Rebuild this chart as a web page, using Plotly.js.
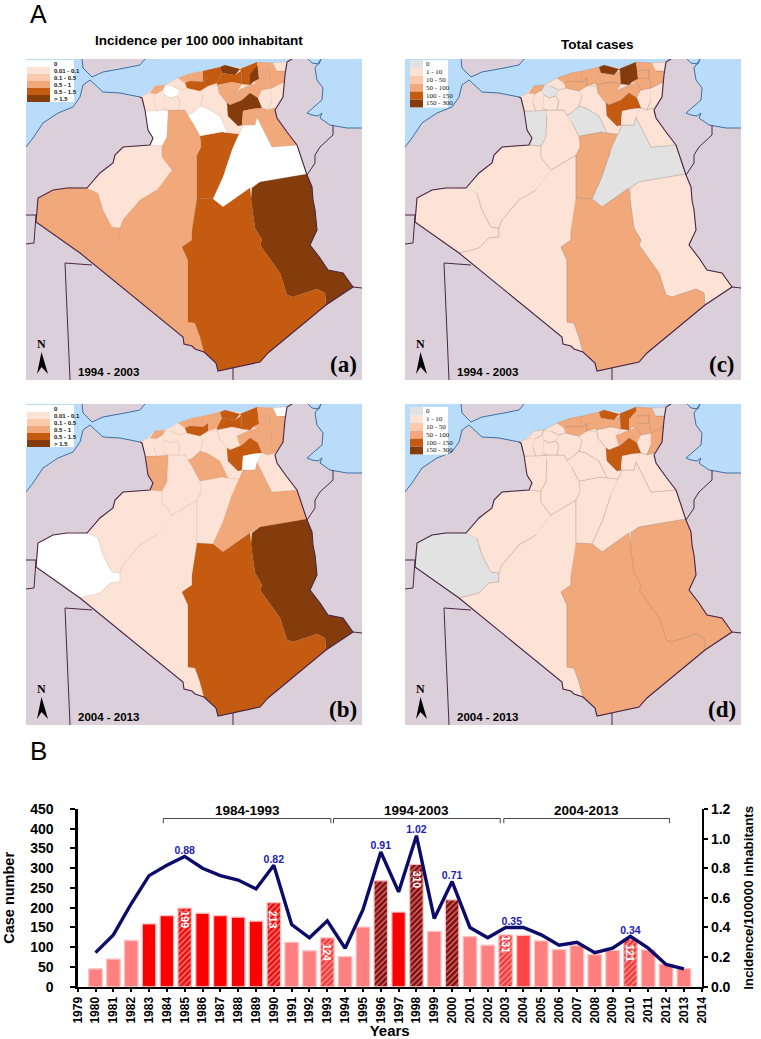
<!DOCTYPE html>
<html>
<head>
<meta charset="utf-8">
<script src="https://cdn.plot.ly/plotly-3.0.1.min.js"></script>
<style>
  html, body { margin: 0; padding: 0; background: #fff; }
</style>
</head>
<body>
<div id="chart" style="width:761px;height:1039px"></div>
<script>
// --- panel B data ---
const years = [1980,1981,1982,1983,1984,1985,1986,1987,1988,1989,1990,1991,1992,1993,1994,1995,1996,
  1997,1998,1999,2000,2001,2002,2003,2004,2005,2006,2007,2008,2009,2010,2011,2012,2013];
const caseNumbers = [45,70,117,159,180,199,186,180,176,166,213,112,91,124,76,151,268,
  189,310,140,220,127,105,131,130,116,94,104,81,92,121,93,57,46];
const incidence = [0.23,0.35,0.56,0.75,0.82,0.88,0.80,0.75,0.72,0.66,0.82,0.42,0.33,0.445,0.26,0.52,0.91,
  0.64,1.02,0.46,0.71,0.40,0.33,0.40,0.40,0.35,0.28,0.30,0.23,0.26,0.34,0.26,0.15,0.12];
const barClass = ['l','l','l','r','r','hr','r','r','r','r','hr','l','l','hl','l','l','hd',
  'r','hd','l','hd','l','l','hl','m','l','l','l','l','l','hl','l','l','l'];
const noteYears = [1985,1990,1993,1998,2003,2010];
const noteText = ['199','213','124','310','131','121'];
const noteCenters = [171,170,86,270,108,84];
const peakYears = [1985,1990,1996,1998,2000,2003.35,2010];
const peakY = [0.88,0.82,0.91,1.02,0.71,0.40,0.34];
const peakText = ['0.88','0.82','0.91','1.02','0.71','0.35','0.34'];
const periods = ['1984-1993','1994-2003','2004-2013'];
const periodStart = [1983.8,1993.35,2002.9];
const periodEnd = [1993.2,2002.7,2012.2];

// --- map geometry, in pixels of panel (a) ---
const coastAlgeria = [[140,97],[148,93],[155,86],[165,85],[178,78],[192,73],[208,70],[225,65],[242,68],[257,62],[273,63],[285,62],[292,59]];
const coastMorocco = [[140,97],[120,93],[103,92],[95,85],[90,80],[83,85],[80,97],[73,107],[58,113],[43,123],[33,138],[26,147]];
const coastSpain = [[82,59],[83,68],[92,77],[103,72],[125,68],[140,65],[145,59]];
const coastTunisia = [[321,59],[315,68],[317,80],[323,88],[322,100],[313,108],[307,113],[312,115],[318,116],[322,113],[320,118],[330,125],[347,128],[362,128]];
const coastBizerte = [[308,59],[312,63],[319,64],[321,59]];
const algeriaBorder = [[292,59],[287,62],[285,75],[283,97],[275,110],[277,118],[287,132],[297,145],[302,160],[307,175],[312,187],[313,200],[315,210],[317,230],[310,245],[320,258],[328,270],[343,273],[353,287],[326,305],[268,353],[260,362],[218,371],[216,363],[204,352],[195,349],[192,346],[184,344],[183,337],[80,253],[36,222],[38,198],[53,190],[67,188],[87,188],[100,173],[113,163],[115,155],[123,147],[150,145],[153,138],[148,130],[145,110],[142,98],[140,97]];
const otherBorders = [
  [[26,215],[36,215],[34,243],[26,244]],
  [[92,265],[65,263],[70,380]],
  [[233,368],[233,380]],
  [[353,287],[362,288]],
  [[333,125],[333,135],[320,147],[315,155],[315,163],[307,175]]
];

const regionNames = ['Tindouf','Bechar','Adrar','Ghardaia','Ouargla','Illizi','Tamanrasset','Naama','El Bayadh','Laghouat','Djelfa',
  'Tlemcen','Ain Temouchent','Sidi Bel Abbes','Mascara','Mostaganem','Saida','Tiaret','Chlef','Ain Defla','Tissemsilt','Tipaza',
  'Algiers','Bouira','Tizi Ouzou','Bejaia','Msila','Setif','Biskra','Khenchela','Tebessa','Jijel','Constantine','Guelma','El Tarf','Mila','Ouled Djellal','El Oued'];
const regionOutlines = [
  [[36,222],[38,198],[53,190],[72,187],[87,188],[98,193],[103,210],[112,227],[120,228],[120,237],[110,238],[100,248],[93,250],[80,253]],
  [[87,188],[100,173],[113,163],[115,155],[123,147],[150,145],[162,146],[162,157],[172,170],[157,190],[140,200],[123,220],[120,228],[112,227],[103,210],[98,193]],
  [[172,170],[197,155],[197,198],[192,230],[192,240],[182,247],[188,260],[188,322],[195,323],[200,337],[204,352],[195,349],[192,346],[184,344],[183,337],[80,253],[93,250],[100,248],[110,238],[120,237],[120,228],[123,220],[140,200],[157,190]],
  [[200,136],[222,132],[239,134],[232,150],[223,177],[213,199],[197,198],[197,155],[201,147]],
  [[239,134],[243,125],[255,125],[257,117],[272,147],[297,145],[307,174],[260,182],[250,188],[223,207],[213,199],[223,177],[232,150]],
  [[307,174],[260,182],[252,188],[251,200],[252,207],[255,228],[262,240],[260,245],[280,273],[287,295],[293,297],[317,289],[325,293],[326,305],[353,287],[343,273],[328,270],[320,258],[310,245],[317,230],[315,210],[313,200],[312,187]],
  [[197,198],[213,199],[223,207],[250,188],[252,207],[255,228],[262,240],[260,245],[280,273],[287,295],[293,297],[317,289],[325,293],[326,305],[268,353],[260,362],[218,371],[216,363],[204,352],[200,337],[195,323],[188,322],[188,260],[182,247],[192,240],[192,230]],
  [[145,111],[168,110],[168,115],[167,137],[162,146],[150,145],[153,138],[148,130]],
  [[168,110],[178,110],[185,110],[188,115],[193,123],[200,136],[201,147],[197,155],[172,170],[162,157],[162,146],[167,137],[168,115]],
  [[188,115],[192,113],[200,106],[207,108],[220,116],[228,133],[222,132],[200,136],[193,123]],
  [[210,86],[218,86],[219,93],[227,103],[228,116],[238,126],[243,125],[239,134],[228,133],[220,116],[207,108],[200,106],[203,96]],
  [[140,97],[150,93],[156,94],[154,103],[157,111],[145,111],[142,98]],
  [[150,93],[155,86],[165,85],[163,90],[156,94]],
  [[156,94],[163,90],[165,95],[164,108],[168,110],[157,111],[154,103]],
  [[163,90],[165,85],[172,86],[180,90],[177,96],[170,98],[165,95]],
  [[165,85],[178,78],[185,83],[187,88],[180,90],[172,86]],
  [[165,95],[170,98],[177,96],[180,101],[178,110],[168,110],[164,108]],
  [[180,90],[187,88],[200,91],[203,96],[200,106],[192,113],[188,115],[185,110],[178,110],[180,101],[177,96]],
  [[178,78],[192,73],[190,81],[185,83]],
  [[192,73],[203,71],[203,82],[190,82]],
  [[185,83],[190,81],[203,82],[208,78],[208,86],[200,91],[187,88]],
  [[203,71],[220,67],[222,73],[217,83],[208,86],[208,78],[203,82]],
  [[220,67],[225,65],[240,69],[235,75],[222,73]],
  [[222,73],[235,75],[241,71],[242,84],[232,82],[217,85],[217,83]],
  [[240,69],[257,62],[258,71],[250,74],[250,85],[242,84],[241,71]],
  [[250,74],[258,65],[259,79],[253,82],[250,85]],
  [[217,85],[232,82],[242,84],[237,91],[240,101],[230,105],[227,103],[219,93],[218,86]],
  [[237,91],[250,85],[258,83],[262,90],[258,98],[250,93],[242,100],[240,101]],
  [[242,100],[250,93],[258,98],[262,108],[252,109],[243,111],[242,125],[238,126],[228,116],[227,103],[230,105],[240,101]],
  [[262,90],[272,88],[272,100],[268,110],[262,108],[258,98]],
  [[272,88],[284,82],[283,97],[275,108],[268,110],[272,100]],
  [[257,62],[273,63],[270,70],[258,71]],
  [[258,71],[270,70],[270,78],[259,79]],
  [[273,63],[277,71],[285,71],[284,82],[272,88],[270,78],[270,70]],
  [[273,63],[285,62],[287,62],[285,71],[277,71]],
  [[259,79],[270,78],[272,88],[262,90],[258,83],[253,82]],
  [[243,111],[252,109],[262,108],[257,117],[255,125],[243,125],[242,125]],
  [[262,108],[268,110],[275,108],[277,118],[287,132],[297,145],[272,147],[257,117]]
];
const northArrow = [[41.5,352],[37,374],[41.5,367],[48,374]];

// map classes per region, same order as regionNames
const classesA = [3,1,3,4,0,5,4,0,3,0,1, 1,3,1,0,1,1,1,3,3,4,4, 5,4,4,5,3,3,5,1,1,3,3,3,1,3,3,3];
const classesB = [0,1,1,1,3,5,4,3,1,3,1, 1,3,1,1,1,1,1,3,3,4,3, 4,4,4,4,1,3,4,3,3,3,3,3,0,3,0,1];
const classesC = [1,1,1,3,0,1,3,0,1,0,1, 1,3,1,0,1,1,1,3,3,3,3, 5,3,5,5,3,3,4,1,1,3,3,3,1,3,1,1];
const classesD = [0,1,1,1,1,3,3,1,1,1,1, 1,1,1,1,1,1,1,3,3,3,3, 4,3,4,3,1,3,4,1,3,3,3,3,0,3,1,1];

const incidenceLegend = ['0','0.01 - 0.1','0.1 - 0.5','0.5 - 1','0.5 - 1.5','> 1.5'];
const casesLegend = ['0','1 - 10','10 - 50','50 - 100','100 - 150','150 - 300'];
const incidenceColors = ['#ffffff','#fde3d6','#fbc9ac','#f1a97c','#c55a11','#843c0c'];
const casesColors = ['#e2e2e2','#fde3d6','#fbc9ac','#f1a97c','#c55a11','#843c0c'];

const W = 761, H = 1039;
const SANS = 'Liberation Sans, Arial, sans-serif';
const SERIF = 'Liberation Serif, Times New Roman, serif';
const MAUVE = '#dbd0d9', SEA = '#badcfb', BORDER = '#4a2547', COAST = '#3d6fa6';

const panels = [
  {id:'', dx:0, dy:0, classes:classesA, colors:incidenceColors, labels:incidenceLegend, tag:'(a)', period:'1994 - 2003', edge:'rgba(130,100,80,0.22)', lg:{x0:26,x1:74,sw:[27,50],y0:60,row:7,tx:52,fs:6,fam:SANS,w:700}},
  {id:'2', dx:0, dy:345, classes:classesB, colors:incidenceColors, labels:incidenceLegend, tag:'(b)', period:'2004 - 2013', edge:'rgba(130,100,80,0.22)', lg:{x0:26,x1:74,sw:[27,50],y0:60,row:7,tx:52,fs:6,fam:SANS,w:700}},
  {id:'3', dx:379, dy:0, classes:classesC, colors:casesColors, labels:casesLegend, tag:'(c)', period:'1994 - 2003', edge:'rgba(120,105,95,0.45)', lg:{x0:31,x1:69,sw:[31,44],y0:60,row:7.9,tx:45,fs:7,fam:SERIF,w:400}},
  {id:'4', dx:379, dy:345, classes:classesD, colors:casesColors, labels:casesLegend, tag:'(d)', period:'2004 - 2013', edge:'rgba(120,105,95,0.45)', lg:{x0:31,x1:69,sw:[31,44],y0:62,row:7.9,tx:45,fs:7,fam:SERIF,w:400}}
];

const xs = pts => pts.map(p => p[0]);
const ys = pts => pts.map(p => p[1]);
const px = x => x / W;
const py = y => 1 - y / H;

const traces = [];
const layout = {
  width: W, height: H,
  margin: { t: 0, b: 0, l: 0, r: 0 },
  paper_bgcolor: '#fff', plot_bgcolor: 'rgba(0,0,0,0)',
  showlegend: false,
  font: { family: SANS, color: '#000' },
  shapes: [], annotations: [],
};

function polyTrace(pts, ax, fill, line, width) {
  return {
    type: 'scatter', mode: width ? 'lines' : 'none', x: xs(pts), y: ys(pts),
    xaxis: 'x' + ax, yaxis: 'y' + ax,
    fill: fill ? 'toself' : 'none', fillcolor: fill || undefined,
    line: { color: line || 'rgba(0,0,0,0)', width: width || 0 },
    hoverinfo: 'skip',
  };
}

panels.forEach(p => {
  const ax = p.id;
  layout['xaxis' + ax] = { domain: [px(26 + p.dx), px(362 + p.dx)], range: [26, 362], visible: false, fixedrange: true, anchor: 'y' + ax };
  layout['yaxis' + ax] = { domain: [py(380 + p.dy), py(59 + p.dy)], range: [380, 59], visible: false, fixedrange: true, anchor: 'x' + ax };

  layout.shapes.push({ type: 'rect', xref: 'x' + ax, yref: 'y' + ax, x0: 26, x1: 362, y0: 59, y1: 380, fillcolor: MAUVE, line: { width: 0 }, layer: 'below' });

  const seaMain = [[26,59],...coastSpain,...coastAlgeria.slice().reverse().slice(0,-1),...coastMorocco];
  const seaEast = [...coastTunisia,[362,59]];
  traces.push(polyTrace(seaMain, ax, SEA));
  traces.push(polyTrace(seaEast, ax, SEA));
  traces.push(polyTrace(coastBizerte, ax, SEA));
  [coastSpain, coastMorocco, coastTunisia, coastBizerte].forEach(c => traces.push(polyTrace(c, ax, null, COAST, 1)));

  traces.push(polyTrace([...coastAlgeria, ...algeriaBorder], ax, p.colors[1]));
  regionOutlines.forEach((pts, i) => {
    traces.push(polyTrace(pts, ax, p.colors[p.classes[i]], p.edge, 0.5));
  });
  traces.push(polyTrace(algeriaBorder, ax, null, BORDER, 1.1));
  otherBorders.forEach(b => traces.push(polyTrace(b, ax, null, BORDER, 1)));
  traces.push(polyTrace(northArrow, ax, '#000'));

  // legend box
  const lg = p.lg;
  layout.shapes.push({ type: 'rect', xref: 'x' + ax, yref: 'y' + ax, x0: lg.x0, x1: lg.x1, y0: lg.y0, y1: lg.y0 + lg.row * 6, fillcolor: '#fff', line: { width: 0 } });
  p.labels.forEach((t, i) => {
    layout.shapes.push({ type: 'rect', xref: 'x' + ax, yref: 'y' + ax, x0: lg.sw[0], x1: lg.sw[1], y0: lg.y0 + lg.row * i, y1: lg.y0 + lg.row * (i + 1), fillcolor: p.colors[i], line: { width: 0 } });
    layout.annotations.push({ xref: 'x' + ax, yref: 'y' + ax, x: lg.tx, y: lg.y0 + lg.row * (i + 0.5), text: t, showarrow: false, xanchor: 'left', yanchor: 'middle', font: { size: lg.fs, family: lg.fam, weight: lg.w, color: '#111' } });
  });

  layout.annotations.push(
    { xref: 'x' + ax, yref: 'y' + ax, x: 41, y: 344, text: 'N', showarrow: false, xanchor: 'center', yanchor: 'middle', font: { size: 12, family: SERIF, weight: 700 } },
    { xref: 'x' + ax, yref: 'y' + ax, x: 108, y: 372, text: p.period, showarrow: false, xanchor: 'center', yanchor: 'middle', font: { size: 11.5, family: SANS, weight: 700 } },
    { xref: 'x' + ax, yref: 'y' + ax, x: 343, y: 364, text: p.tag, showarrow: false, xanchor: 'center', yanchor: 'middle', font: { size: 23, family: SERIF, weight: 700 } }
  );
});

// --- panel B ---
const barFill = { l: '#ff8080', r: '#ff0000', m: '#ff4545', hl: '#f03c3c', hr: '#ea1010', hd: '#8a0a0a' };
const barHatch = { hl: '#ff8c8c', hr: '#ff7c7c', hd: '#e85050' };

traces.push({
  type: 'bar', x: years, y: caseNumbers, xaxis: 'x5', yaxis: 'y5', width: 0.76,
  marker: {
    color: barClass.map(c => barFill[c]),
    line: { color: '#ffc0c0', width: 1.3 },
    pattern: {
      shape: barClass.map(c => barHatch[c] ? '/' : ''),
      fgcolor: barClass.map(c => barHatch[c] || barFill[c]),
      size: 4, solidity: 0.3, fillmode: 'overlay',
    },
  },
  hoverinfo: 'skip',
});
traces.push({
  type: 'scatter', mode: 'lines', x: years, y: incidence, xaxis: 'x5', yaxis: 'y6',
  line: { color: '#0b0b6a', width: 3.4 }, hoverinfo: 'skip',
});
traces.push({
  type: 'scatter', mode: 'text', x: peakYears, y: peakY, xaxis: 'x5', yaxis: 'y6',
  text: peakText, textposition: 'top center',
  textfont: { color: '#2222b4', size: 10.5, family: SANS, weight: 700 }, hoverinfo: 'skip',
});

const axisLine = { showline: true, linecolor: '#000', linewidth: 2.4, ticks: 'outside', tickcolor: '#000', tickwidth: 2, fixedrange: true, showgrid: false, zeroline: false };
layout.xaxis5 = {
  ...axisLine, domain: [px(77.7), px(701.7)], range: [1979, 2014], tick0: 1979, dtick: 1, ticklen: 3, anchor: 'y5',
  tickangle: -90, tickfont: { size: 12, family: 'Liberation Sans Narrow, Liberation Sans, sans-serif', weight: 700 },
  title: { text: 'Years', font: { size: 15, weight: 700 }, standoff: 3 },
};
layout.yaxis5 = {
  ...axisLine, domain: [py(986.7), py(809)], range: [0, 450], dtick: 50, ticklen: 5, anchor: 'x5', ticklabelstandoff: 14,
  tickfont: { size: 14, weight: 700 },
  title: { text: 'Case number', font: { size: 14.5, weight: 700 }, standoff: 12 },
};
layout.yaxis6 = {
  ...axisLine, domain: [py(986.7), py(809)], range: [0, 1.2], dtick: 0.2, ticklen: 4, tickformat: '.1f', overlaying: 'y5', side: 'right', anchor: 'x5',
  tickfont: { size: 14, weight: 700 },
  title: { text: 'Incidence/100000 inhabitants', font: { size: 13.3, weight: 700 }, standoff: 14 },
};

periods.forEach((t, i) => {
  layout.shapes.push({
    type: 'path', xref: 'x5', yref: 'y5', line: { color: '#444', width: 1 },
    path: `M ${periodStart[i]} 414 L ${periodStart[i]} 426 L ${periodEnd[i]} 426 L ${periodEnd[i]} 414`,
  });
  layout.annotations.push({
    xref: 'x5', yref: 'paper', x: (periodStart[i] + periodEnd[i]) / 2, y: py(810), text: t, showarrow: false,
    font: { size: 13.5, weight: 700, family: SANS }, xanchor: 'center', yanchor: 'middle',
  });
});

noteYears.forEach((y, i) => {
  layout.annotations.push({
    xref: 'x5', yref: 'y5', x: y, y: noteCenters[i], text: noteText[i], textangle: 90, showarrow: false,
    xanchor: 'center', yanchor: 'middle',
    font: { size: 10.5, color: '#fff', family: 'Liberation Sans Narrow, Liberation Sans, sans-serif', weight: 700 },
  });
});

const pageText = [
  { x: 38, y: 14, text: 'A', size: 25, w: 400 },
  { x: 38, y: 751, text: 'B', size: 26, w: 400 },
  { x: 199, y: 41, text: 'Incidence per 100 000 inhabitant', size: 13.5, w: 700 },
  { x: 597, y: 45, text: 'Total cases', size: 13.5, w: 700 },
];
pageText.forEach(t => layout.annotations.push({
  xref: 'paper', yref: 'paper', x: px(t.x), y: py(t.y), text: t.text, showarrow: false, xanchor: 'center', yanchor: 'middle',
  font: { size: t.size, family: SANS, weight: t.w },
}));

Plotly.newPlot('chart', traces, layout, { displayModeBar: false, staticPlot: true });
</script>
</body>
</html>
